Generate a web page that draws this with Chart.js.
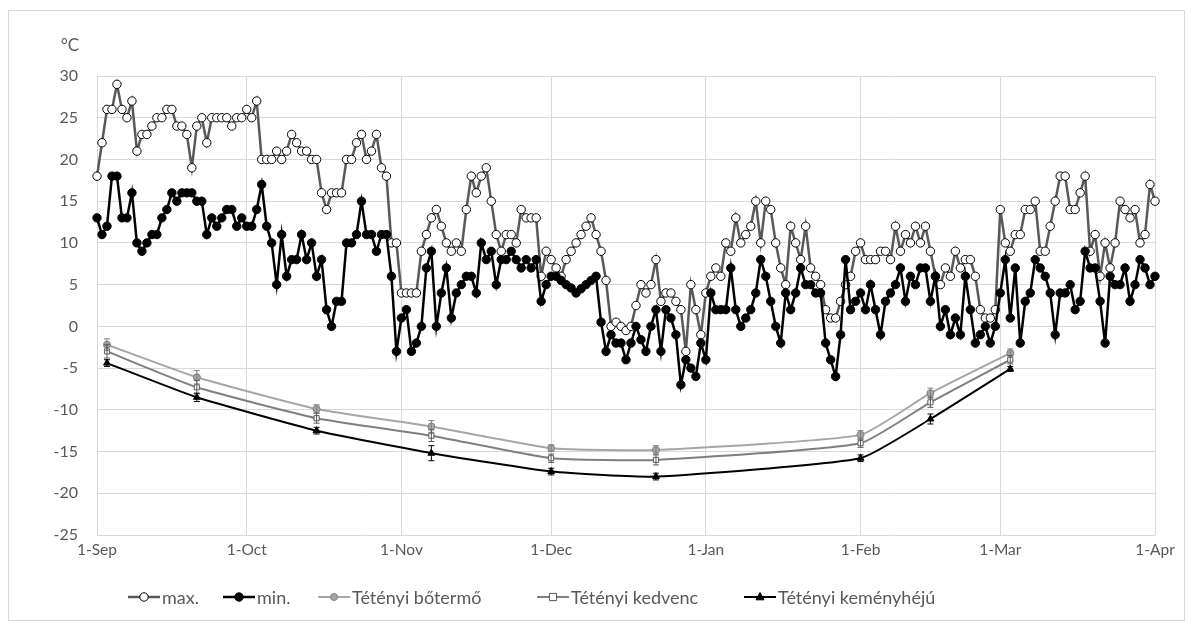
<!DOCTYPE html>
<html>
<head>
<meta charset="utf-8">
<script src="https://cdn.jsdelivr.net/npm/chart.js@4.4.0/dist/chart.umd.min.js"></script>
<style>
    html, body { margin: 0; padding: 0; background: #fff; }
    #wrap { position: relative; width: 1194px; height: 629px; }
    #frame { position: absolute; left: 8px; top: 10px; width: 1177px; height: 611px; border: 1px solid #d9d9d9; box-sizing: border-box; pointer-events: none; }
</style>
</head>
<body>
<div id="wrap">
    <canvas id="chart" width="1194" height="629"></canvas>
    <div id="frame"></div>
</div>
<script>
// napok 1-Sep-tol (0) 1-Apr-ig (212)
const monthDays = [0, 30, 61, 91, 122, 153, 181, 212];
const monthLabels = ['1-Sep', '1-Oct', '1-Nov', '1-Dec', '1-Jan', '1-Feb', '1-Mar', '1-Apr'];
const yTicks = [30, 25, 20, 15, 10, 5, 0, -5, -10, -15, -20, -25];

// napi maximum homerseklet
const maxTemp = [
    18, 22, 26, 26, 29, 26, 25, 27, 21, 23, 23, 24, 25, 25, 26, 26, 24, 24, 23, 19, 24, 25, 22, 25, 25, 25, 25, 24, 25, 25, 26, 25, 27,
    20, 20, 20, 21, 20, 21, 23, 22, 21, 21, 20, 20, 16, 14, 16, 16, 16, 20, 20, 22, 23, 20, 21, 23, 19, 18, 10, 10, 4, 4, 4, 4,
    9, 11, 13, 14, 12, 10, 9, 10, 9, 14, 18, 16, 18, 19, 15, 11, 9, 11, 11, 10, 14, 13, 13, 13, 6, 9, 8, 7,
    6, 8, 9, 10, 11, 12, 13, 11, 9, 5.5, 0, 0.5, 0, -0.5, 0, 2.5, 5, 4, 5, 8, 3, 4, 4, 3, 2, -3, 5, 2, -1, 4,
    6, 7, 6, 10, 9, 13, 10, 11, 12, 15, 10, 15, 14, 10, 7, 5, 12, 10, 8, 12, 7, 6, 5, 2, 1, 1, 3, 5, 6, 9,
    10, 8, 8, 8, 9, 9, 8, 12, 9, 11, 10, 12, 10, 12, 9, 6, 5, 7, 6, 9, 7, 8, 8, 6, 2, 1, 1, 2, 14, 10,
    9, 11, 11, 14, 14, 15, 9, 9, 12, 15, 18, 18, 14, 14, 16, 18, 9, 11, 6, 10, 7, 10, 15, 14, 13, 14, 10, 11, 17, 15
];

// napi minimum homerseklet
const minTemp = [
    13, 11, 12, 18, 18, 13, 13, 16, 10, 9, 10, 11, 11, 13, 14, 16, 15, 16, 16, 16, 15, 15, 11, 13, 12, 13, 14, 14, 12, 13, 12, 12, 14, 17,
    12, 10, 5, 11, 6, 8, 8, 11, 8, 10, 6, 8, 2, 0, 3, 3, 10, 10, 11, 15, 11, 11, 9, 11, 11, 6, -3,
    1, 2, -3, -2, 0, 7, 9, 0, 4, 7, 1, 4, 5, 6, 6, 4, 10, 8, 9, 5, 8, 8, 9, 8, 7, 8, 7, 8, 3, 5, 6, 6,
    5.5, 5, 4.6, 4, 4.5, 5, 5.5, 6, 0.5, -3, -1, -2, -2, -4, -2, 0, -1.6, -3, 0, 2, -3, 2, 1, -1, -7, -4, -5, -6, -2, -4,
    4, 2, 2, 2, 7, 2, 0, 1, 2, 4, 8, 6, 3, 0, -2, 4, 2, 4, 7, 5, 5, 4, 4, -2, -4, -6, -1, 8, 2, 3,
    4, 2, 5, 2, -1, 3, 4, 5, 7, 3, 6, 5, 7, 7, 3, 6, 0, 2, -1, 1, -1, 6, 2, -2, -1, 0, -2, 0, 4, 8,
    1, 7, -2, 3, 4, 8, 7, 6, 4, -1, 4, 4, 5, 2, 3, 9, 7, 7, 3, -2, 6, 5, 5, 7, 3, 5, 8, 7, 5, 6
];

// fagytures mintavetel napjai
const sampleDays = [2, 20, 44, 67, 91, 112, 153, 167, 183];
const botermo = [-2.2, -6.1, -9.9, -12.0, -14.6, -14.8, -13.0, -8.0, -3.2];
const botermoErr = [0.7, 0.8, 0.5, 0.7, 0.4, 0.5, 0.5, 0.6, 0.5];
const kedvenc = [-3.0, -7.3, -11.0, -13.1, -15.8, -16.0, -14.0, -9.1, -4.0];
const kedvencErr = [0.8, 0.8, 0.6, 0.7, 0.5, 0.6, 0.5, 0.6, 0.5];
const kemeny = [-4.4, -8.5, -12.5, -15.2, -17.4, -18.0, -15.8, -11.1, -5.1];
const kemenyErr = [0.4, 0.5, 0.4, 0.9, 0.4, 0.4, 0.4, 0.6, 0.3];

const FONT = 'Lato, "Liberation Sans", sans-serif';
const TEXT = '#595959';
const GRID = '#d9d9d9';

const toXY = (days, vals) => vals.map((v, i) => ({ x: days[i], y: v }));
const daily = vals => vals.map((v, i) => ({ x: i, y: v }));

const datasets = [
    {
        label: 'max.', data: daily(maxTemp), clip: false,
        borderColor: '#595959', borderWidth: 2.5,
        pointStyle: 'circle', pointRadius: 4.2, pointBackgroundColor: '#fff', pointBorderColor: '#000', pointBorderWidth: 1,
        order: 5
    },
    {
        label: 'min.', data: daily(minTemp), clip: false,
        borderColor: '#000', borderWidth: 2.5,
        pointStyle: 'circle', pointRadius: 4.2, pointBackgroundColor: '#000', pointBorderColor: '#000', pointBorderWidth: 1,
        order: 4
    },
    {
        label: 'Tétényi bőtermő', data: toXY(sampleDays, botermo), errors: botermoErr,
        borderColor: '#a6a6a6', borderWidth: 2, tension: 0.15,
        pointStyle: 'circle', pointRadius: 3.5, pointBackgroundColor: '#a6a6a6', pointBorderColor: '#7f7f7f', pointBorderWidth: 1,
        order: 3
    },
    {
        label: 'Tétényi kedvenc', data: toXY(sampleDays, kedvenc), errors: kedvencErr,
        borderColor: '#7f7f7f', borderWidth: 2, tension: 0.15,
        pointStyle: 'rect', pointRadius: 3.6, pointBackgroundColor: '#fff', pointBorderColor: '#595959', pointBorderWidth: 1,
        order: 2
    },
    {
        label: 'Tétényi keményhéjú', data: toXY(sampleDays, kemeny), errors: kemenyErr,
        borderColor: '#000', borderWidth: 2, tension: 0.15,
        pointStyle: 'triangle', pointRadius: 4, pointBackgroundColor: '#000', pointBorderColor: '#000', pointBorderWidth: 1,
        order: 1
    }
];

// hibasavok
const errorBars = {
    id: 'errorBars',
    afterDatasetsDraw(chart) {
        const ctx = chart.ctx;
        const ys = chart.scales.y;
        chart.data.datasets.forEach((ds, i) => {
            if (!ds.errors) return;
            const meta = chart.getDatasetMeta(i);
            ctx.save();
            ctx.strokeStyle = ds.pointBorderColor;
            ctx.lineWidth = 1;
            meta.data.forEach((pt, j) => {
                const v = ds.data[j].y;
                const e = ds.errors[j];
                const top = ys.getPixelForValue(v + e);
                const bot = ys.getPixelForValue(v - e);
                ctx.beginPath();
                ctx.moveTo(pt.x, top); ctx.lineTo(pt.x, bot);
                ctx.moveTo(pt.x - 3, top); ctx.lineTo(pt.x + 3, top);
                ctx.moveTo(pt.x - 3, bot); ctx.lineTo(pt.x + 3, bot);
                ctx.stroke();
            });
            ctx.restore();
        });
    }
};

function drawMarker(ctx, ds, x, y) {
    const r = ds.pointRadius;
    ctx.save();
    ctx.fillStyle = ds.pointBackgroundColor;
    ctx.strokeStyle = ds.pointBorderColor;
    ctx.lineWidth = ds.pointBorderWidth;
    ctx.beginPath();
    if (ds.pointStyle === 'rect') {
        ctx.rect(x - r, y - r, 2 * r, 2 * r);
    } else if (ds.pointStyle === 'triangle') {
        ctx.moveTo(x, y - r * 1.1);
        ctx.lineTo(x + r, y + r * 0.7);
        ctx.lineTo(x - r, y + r * 0.7);
        ctx.closePath();
    } else {
        ctx.arc(x, y, r, 0, Math.PI * 2);
    }
    ctx.fill();
    ctx.stroke();
    ctx.restore();
}

// egyseg felirat + jelmagyarazat
const extras = {
    id: 'extras',
    afterDraw(chart) {
        const ctx = chart.ctx;
        ctx.save();
        ctx.fillStyle = TEXT;
        ctx.font = '17px ' + FONT;
        ctx.textAlign = 'center';
        ctx.textBaseline = 'middle';
        ctx.fillText('°C', 70, 46);

        const legendY = 597;
        const starts = [128, 223, 318, 537, 744];
        ctx.font = '18px ' + FONT;
        ctx.textAlign = 'left';
        chart.data.datasets.forEach((ds, i) => {
            const x = starts[i];
            ctx.save();
            ctx.strokeStyle = ds.borderColor;
            ctx.lineWidth = ds.borderWidth;
            ctx.beginPath();
            ctx.moveTo(x, legendY);
            ctx.lineTo(x + 32, legendY);
            ctx.stroke();
            ctx.restore();
            drawMarker(ctx, ds, x + 16, legendY);
            ctx.fillStyle = TEXT;
            ctx.fillText(ds.label, x + 34, legendY + 1);
        });
        ctx.restore();
    }
};

new Chart(document.getElementById('chart'), {
    type: 'line',
    data: { datasets: datasets },
    plugins: [errorBars, extras],
    options: {
        responsive: false,
        animation: false,
        events: [],
        layout: { padding: { left: 0, right: 39, top: 76, bottom: 64 } },
        plugins: {
            legend: { display: false },
            tooltip: { enabled: false }
        },
        scales: {
            x: {
                type: 'linear',
                min: 0,
                max: 212,
                afterBuildTicks: axis => { axis.ticks = monthDays.map(v => ({ value: v })); },
                afterFit: axis => { axis.height = 30; },
                grid: { color: GRID, lineWidth: 1, drawTicks: false },
                border: { display: false },
                ticks: {
                    autoSkip: false,
                    maxRotation: 0,
                    padding: 6,
                    color: TEXT,
                    font: { family: FONT, size: 15.5 },
                    callback: v => monthLabels[monthDays.indexOf(v)]
                }
            },
            y: {
                min: -25,
                max: 30,
                afterBuildTicks: axis => { axis.ticks = yTicks.map(v => ({ value: v })); },
                afterFit: axis => { axis.width = 97; },
                grid: { color: GRID, lineWidth: 1, drawTicks: false },
                border: { display: false },
                ticks: {
                    padding: 19,
                    color: TEXT,
                    font: { family: FONT, size: 16 }
                }
            }
        }
    }
});
</script>
</body>
</html>
